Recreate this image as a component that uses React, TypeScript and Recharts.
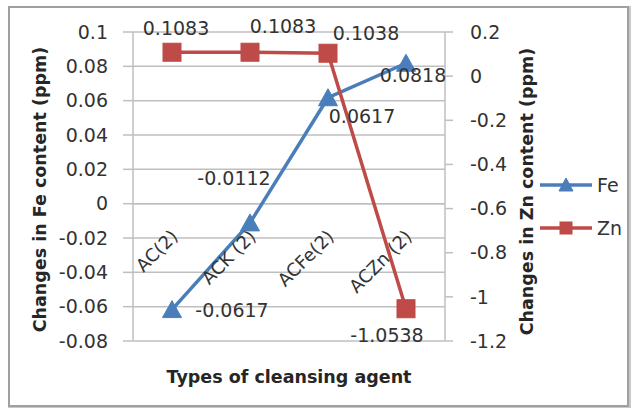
import React from 'react';
import {
  LineChart,
  Line,
  XAxis,
  YAxis,
  CartesianGrid,
  Legend,
  ReferenceLine,
  ReferenceDot,
  LabelList,
} from 'recharts';

const categories = ['AC(2)', 'ACK (2)', 'ACFe(2)', 'ACZn (2)'];
const feValues = [-0.0617, -0.0112, 0.0617, 0.0818];
const znValues = [0.1083, 0.1083, 0.1038, -1.0538];
const feTicks = [-0.08, -0.06, -0.04, -0.02, 0, 0.02, 0.04, 0.06, 0.08, 0.1];
const znTicks = [-1.2, -1, -0.8, -0.6, -0.4, -0.2, 0, 0.2];

// label nudges (px) relative to each point, as placed in the original
const feLabelOffsets = [
  [60, 0],
  [-16, -45],
  [34, 18],
  [7, 12],
];
const znLabelOffsets = [
  [4, -24],
  [33, -26],
  [38, -20],
  [-19, 26],
];

const data = categories.map((c, i) => ({ cat: c, fe: feValues[i], zn: znValues[i] }));

const FONT = '"DejaVu Sans", sans-serif';
const FE = '#4A7EBB';
const ZN = '#BE4B48';
const GRID = '#BFBFBF';
const TEXT = '#333333';

const fmt = (v: number) => String(Number(v.toFixed(2)));

const Triangle = ({ cx, cy, w, h, color }: any) => (
  <path
    d={`M${cx},${cy - h / 2 - 1} L${cx + w / 2},${cy + h / 2} L${cx - w / 2},${cy + h / 2} Z`}
    fill={color}
    stroke={color}
    strokeWidth={1}
  />
);

const Square = ({ cx, cy, s, color }: any) => (
  <rect x={cx - s / 2} y={cy - s / 2} width={s} height={s} fill={color} stroke={color} strokeWidth={1} />
);

const FeDot = (p: any) => {
  if (p.cx == null || p.cy == null) return null;
  return <Triangle key={`fe-${p.index}`} cx={p.cx} cy={p.cy} w={19} h={16} color={FE} />;
};
const ZnDot = (p: any) => {
  if (p.cx == null || p.cy == null) return null;
  return <Square key={`zn-${p.index}`} cx={p.cx} cy={p.cy} s={18} color={ZN} />;
};

const makeLabel = (offsets: number[][]) => (props: any) => {
  const x = props.x ?? props.viewBox?.x;
  const y = props.y ?? props.viewBox?.y;
  const i = props.index ?? 0;
  const [dx, dy] = offsets[i] || [0, 0];
  return (
    <text
      x={x + dx}
      y={y + dy}
      textAnchor="middle"
      dominantBaseline="central"
      fontFamily={FONT}
      fontSize={19}
      fill={TEXT}
    >
      {String(props.value)}
    </text>
  );
};

const CategoryLabel = (label: string) => (p: any) => (
  <text
    x={p.cx + 7}
    y={p.cy + 34}
    textAnchor="end"
    transform={`rotate(-45, ${p.cx + 7}, ${p.cy + 34})`}
    fontFamily={FONT}
    fontSize={18}
    fill={TEXT}
  >
    {label}
  </text>
);

const renderLegend = (props: any) => {
  const payload = props.payload || [];
  return (
    <div>
      {payload.map((entry: any, i: number) => {
        const isFe = entry.dataKey === 'fe';
        const color = isFe ? FE : ZN;
        return (
          <div key={i} style={{ display: 'flex', alignItems: 'center', height: 43 }}>
            <svg width={56} height={20} style={{ display: 'block' }}>
              <line x1={2} y1={10} x2={54} y2={10} stroke={color} strokeWidth={3.5} />
              {isFe ? (
                <Triangle cx={28} cy={10} w={14} h={12} color={color} />
              ) : (
                <Square cx={28} cy={10} s={12} color={color} />
              )}
            </svg>
            <span style={{ marginLeft: 3, fontFamily: FONT, fontSize: 19, color: TEXT }}>{entry.value}</span>
          </div>
        );
      })}
    </div>
  );
};

export default function App() {
  return (
    <div style={{ position: 'absolute', left: 0, top: 0, width: 632, height: 408, background: '#fff' }}>
      <div
        style={{
          position: 'absolute',
          left: 8,
          top: 6,
          width: 617,
          height: 397,
          border: '2px solid #a0a0a0',
          boxShadow: '1px 1px 0 1px #c8c8c8',
        }}
      />
      <div style={{ position: 'absolute', left: 0, top: 0 }}>
        <LineChart width={632} height={408} data={data} margin={{ top: 32, right: 92, bottom: 0, left: 20 }}>
          <CartesianGrid yAxisId="left" vertical={false} stroke={GRID} strokeWidth={1.5} />
          <XAxis
            dataKey="cat"
            tick={false}
            tickLine={false}
            axisLine={false}
            height={67}
            padding={{ left: 39, right: 39 }}
            label={{
              content: (p: any) => {
                const vb = p.viewBox || {};
                return (
                  <text
                    x={vb.x + vb.width / 2}
                    y={vb.y + 36}
                    textAnchor="middle"
                    dominantBaseline="central"
                    fontFamily={FONT}
                    fontWeight="bold"
                    fontSize={17.5}
                    fill="#262626"
                  >
                    Types of cleansing agent
                  </text>
                );
              },
            }}
          />
          <YAxis
            yAxisId="left"
            orientation="left"
            width={113}
            domain={[-0.08, 0.1]}
            ticks={feTicks}
            tickFormatter={fmt}
            interval={0}
            tickSize={10}
            tickMargin={15}
            axisLine={{ stroke: GRID, strokeWidth: 1.5 }}
            tickLine={{ stroke: GRID, strokeWidth: 1.5 }}
            tick={{ fill: TEXT, fontSize: 19, fontFamily: FONT }}
            label={{
              content: (p: any) => {
                const vb = p.viewBox || {};
                const cx = vb.x + 20;
                const cy = vb.y + vb.height / 2 + 3;
                return (
                  <text
                    x={cx}
                    y={cy}
                    textAnchor="middle"
                    dominantBaseline="central"
                    transform={`rotate(-90, ${cx}, ${cy})`}
                    fontFamily={FONT}
                    fontWeight="bold"
                    fontSize={17.5}
                    fill="#262626"
                  >
                    Changes in Fe content (ppm)
                  </text>
                );
              },
            }}
          />
          <YAxis
            yAxisId="right"
            orientation="right"
            width={95}
            domain={[-1.2, 0.2]}
            ticks={znTicks}
            tickFormatter={fmt}
            interval={0}
            tickSize={8}
            tickMargin={17}
            axisLine={{ stroke: GRID, strokeWidth: 1.5 }}
            tickLine={{ stroke: GRID, strokeWidth: 1.5 }}
            tick={{ fill: TEXT, fontSize: 19, fontFamily: FONT, textAnchor: 'start' }}
            label={{
              content: (p: any) => {
                const vb = p.viewBox || {};
                const cx = vb.x + 82;
                const cy = vb.y + vb.height / 2 + 5;
                return (
                  <text
                    x={cx}
                    y={cy}
                    textAnchor="middle"
                    dominantBaseline="central"
                    transform={`rotate(-90, ${cx}, ${cy})`}
                    fontFamily={FONT}
                    fontWeight="bold"
                    fontSize={17.5}
                    fill="#262626"
                  >
                    Changes in Zn content (ppm)
                  </text>
                );
              },
            }}
          />
          <ReferenceLine yAxisId="left" y={0} stroke={GRID} strokeWidth={1.5} />
          {categories.map((c) => (
            <ReferenceDot key={c} yAxisId="left" x={c} y={0} r={1} shape={CategoryLabel(c)} />
          ))}
          <Legend
            layout="horizontal"
            align="center"
            verticalAlign="middle"
            content={renderLegend}
            wrapperStyle={{ position: 'absolute', left: 538, top: 163, width: 92 }}
          />
          <Line
            yAxisId="left"
            dataKey="fe"
            name="Fe"
            stroke={FE}
            strokeWidth={3.5}
            dot={FeDot}
            activeDot={false}
            isAnimationActive={false}
          >
            <LabelList dataKey="fe" content={makeLabel(feLabelOffsets)} />
          </Line>
          <Line
            yAxisId="right"
            dataKey="zn"
            name="Zn"
            stroke={ZN}
            strokeWidth={3.5}
            dot={ZnDot}
            activeDot={false}
            isAnimationActive={false}
          >
            <LabelList dataKey="zn" content={makeLabel(znLabelOffsets)} />
          </Line>
        </LineChart>
      </div>
    </div>
  );
}
